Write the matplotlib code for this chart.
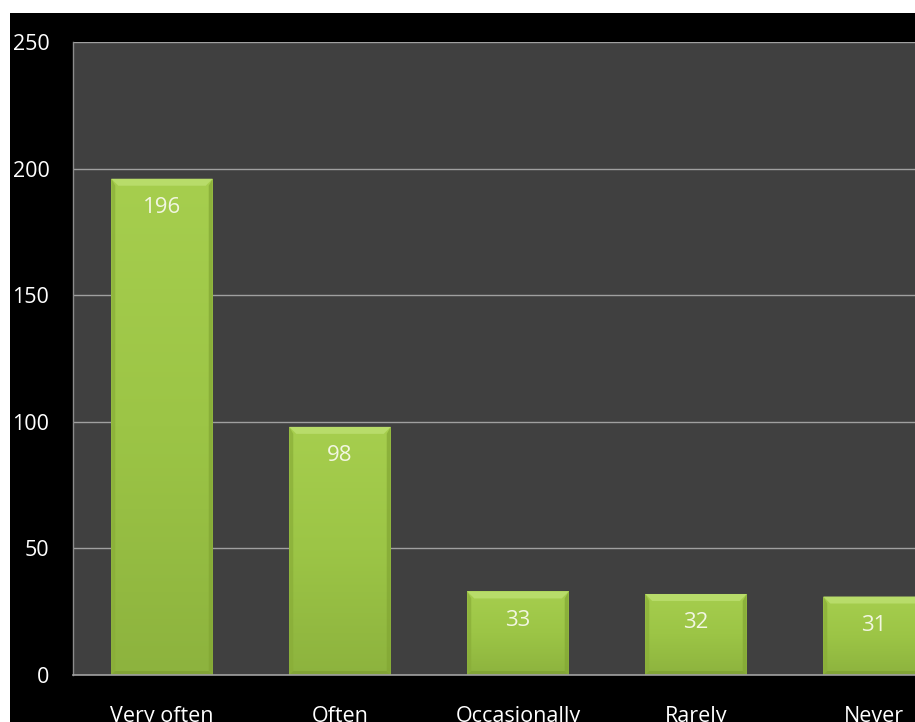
import numpy as np
import matplotlib
matplotlib.use("Agg")
import matplotlib.pyplot as plt
from matplotlib.patches import Rectangle, Polygon
from matplotlib.colors import LinearSegmentedColormap

categories = ["Very often", "Often", "Occasionally", "Rarely", "Never"]
counts = [196, 98, 33, 32, 31]
y_ticks = [0, 50, 100, 150, 200, 250]

W, H = 915, 722
fig = plt.figure(figsize=(W / 100, H / 100), dpi=100, facecolor="white")

# black chart backdrop, inset from the top and left edges
fig.patches.append(Rectangle((10 / W, 0), 1 - 10 / W, 1 - 13 / H,
                             transform=fig.transFigure, facecolor="black",
                             edgecolor="none", zorder=-10))

ax = fig.add_axes([73 / W, 47 / H, 890 / W, 633 / H])
ax.set_zorder(1)
ax.set_facecolor("#404040")
ax.set_xlim(-0.5, len(categories) - 0.5)
ax.set_ylim(0, 250)

for s in ["top", "right"]:
    ax.spines[s].set_visible(False)
ax.spines["left"].set_color("#8c8c8c")
ax.spines["bottom"].set_color("#a0a0a0")
ax.spines["left"].set_linewidth(1.0)
ax.spines["bottom"].set_linewidth(1.2)

ax.set_yticks(y_ticks)
ax.set_xticks(range(len(categories)))
ax.set_xticklabels(categories)
ax.yaxis.grid(True, color="#a0a0a0", linewidth=1.0)
ax.set_axisbelow(True)
ax.tick_params(axis="y", length=0, pad=17, labelsize=15.5, labelcolor="white")
ax.tick_params(axis="x", length=0, pad=22, labelsize=15.5, labelcolor="white")
for lab in ax.get_xticklabels() + ax.get_yticklabels():
    lab.set_fontfamily("Open Sans")

bars = ax.bar(range(len(categories)), counts, width=0.57,
              color="#98bf44", edgecolor="none", zorder=2)

fig.canvas.draw()
# data units per pixel
px_x = (ax.get_xlim()[1] - ax.get_xlim()[0]) / (ax.bbox.width)
px_y = (ax.get_ylim()[1] - ax.get_ylim()[0]) / (ax.bbox.height)

grad_cmap = LinearSegmentedColormap.from_list("bar", ["#8db33e", "#9cc546", "#a6ce4e"])
grad = np.linspace(0, 1, 256).reshape(-1, 1)

for b, v in zip(bars, counts):
    x0, y0, w, h = b.get_x(), b.get_y(), b.get_width(), b.get_height()
    im = ax.imshow(grad, extent=[x0, x0 + w, y0, y0 + h], origin="lower",
                   cmap=grad_cmap, aspect="auto", zorder=2.1)
    im.set_clip_path(b)
    bx, by = 7 * px_x, 7 * px_y
    sx = 4 * px_x
    top = y0 + h
    # bevel: light top, slightly darker sides and bottom
    ax.add_patch(Polygon([(x0, top), (x0 + w, top), (x0 + w - bx, top - by), (x0 + bx, top - by)],
                         closed=True, facecolor="#b8dc6a", edgecolor="none", zorder=2.2))
    ax.add_patch(Polygon([(x0, top), (x0 + sx, top - by), (x0 + sx, y0 + 4 * px_y), (x0, y0)],
                         closed=True, facecolor="#89ad38", edgecolor="none", alpha=0.7, zorder=2.2))
    ax.add_patch(Polygon([(x0 + w, top), (x0 + w - sx, top - by), (x0 + w - sx, y0 + 4 * px_y), (x0 + w, y0)],
                         closed=True, facecolor="#82a634", edgecolor="none", alpha=0.7, zorder=2.2))
    ax.add_patch(Polygon([(x0, y0), (x0 + w, y0), (x0 + w - sx, y0 + 4 * px_y), (x0 + sx, y0 + 4 * px_y)],
                         closed=True, facecolor="#7e9f34", edgecolor="none", alpha=0.7, zorder=2.2))
    ax.text(x0 + w / 2, top - 29 * px_y, str(v), ha="center", va="center",
            fontsize=16, color="#f2f6e2", fontfamily="Open Sans", zorder=3)

ax.set_xlim(-0.5, len(categories) - 0.5)
ax.set_ylim(0, 250)

fig.savefig("out.png", dpi=100, facecolor=fig.get_facecolor())
